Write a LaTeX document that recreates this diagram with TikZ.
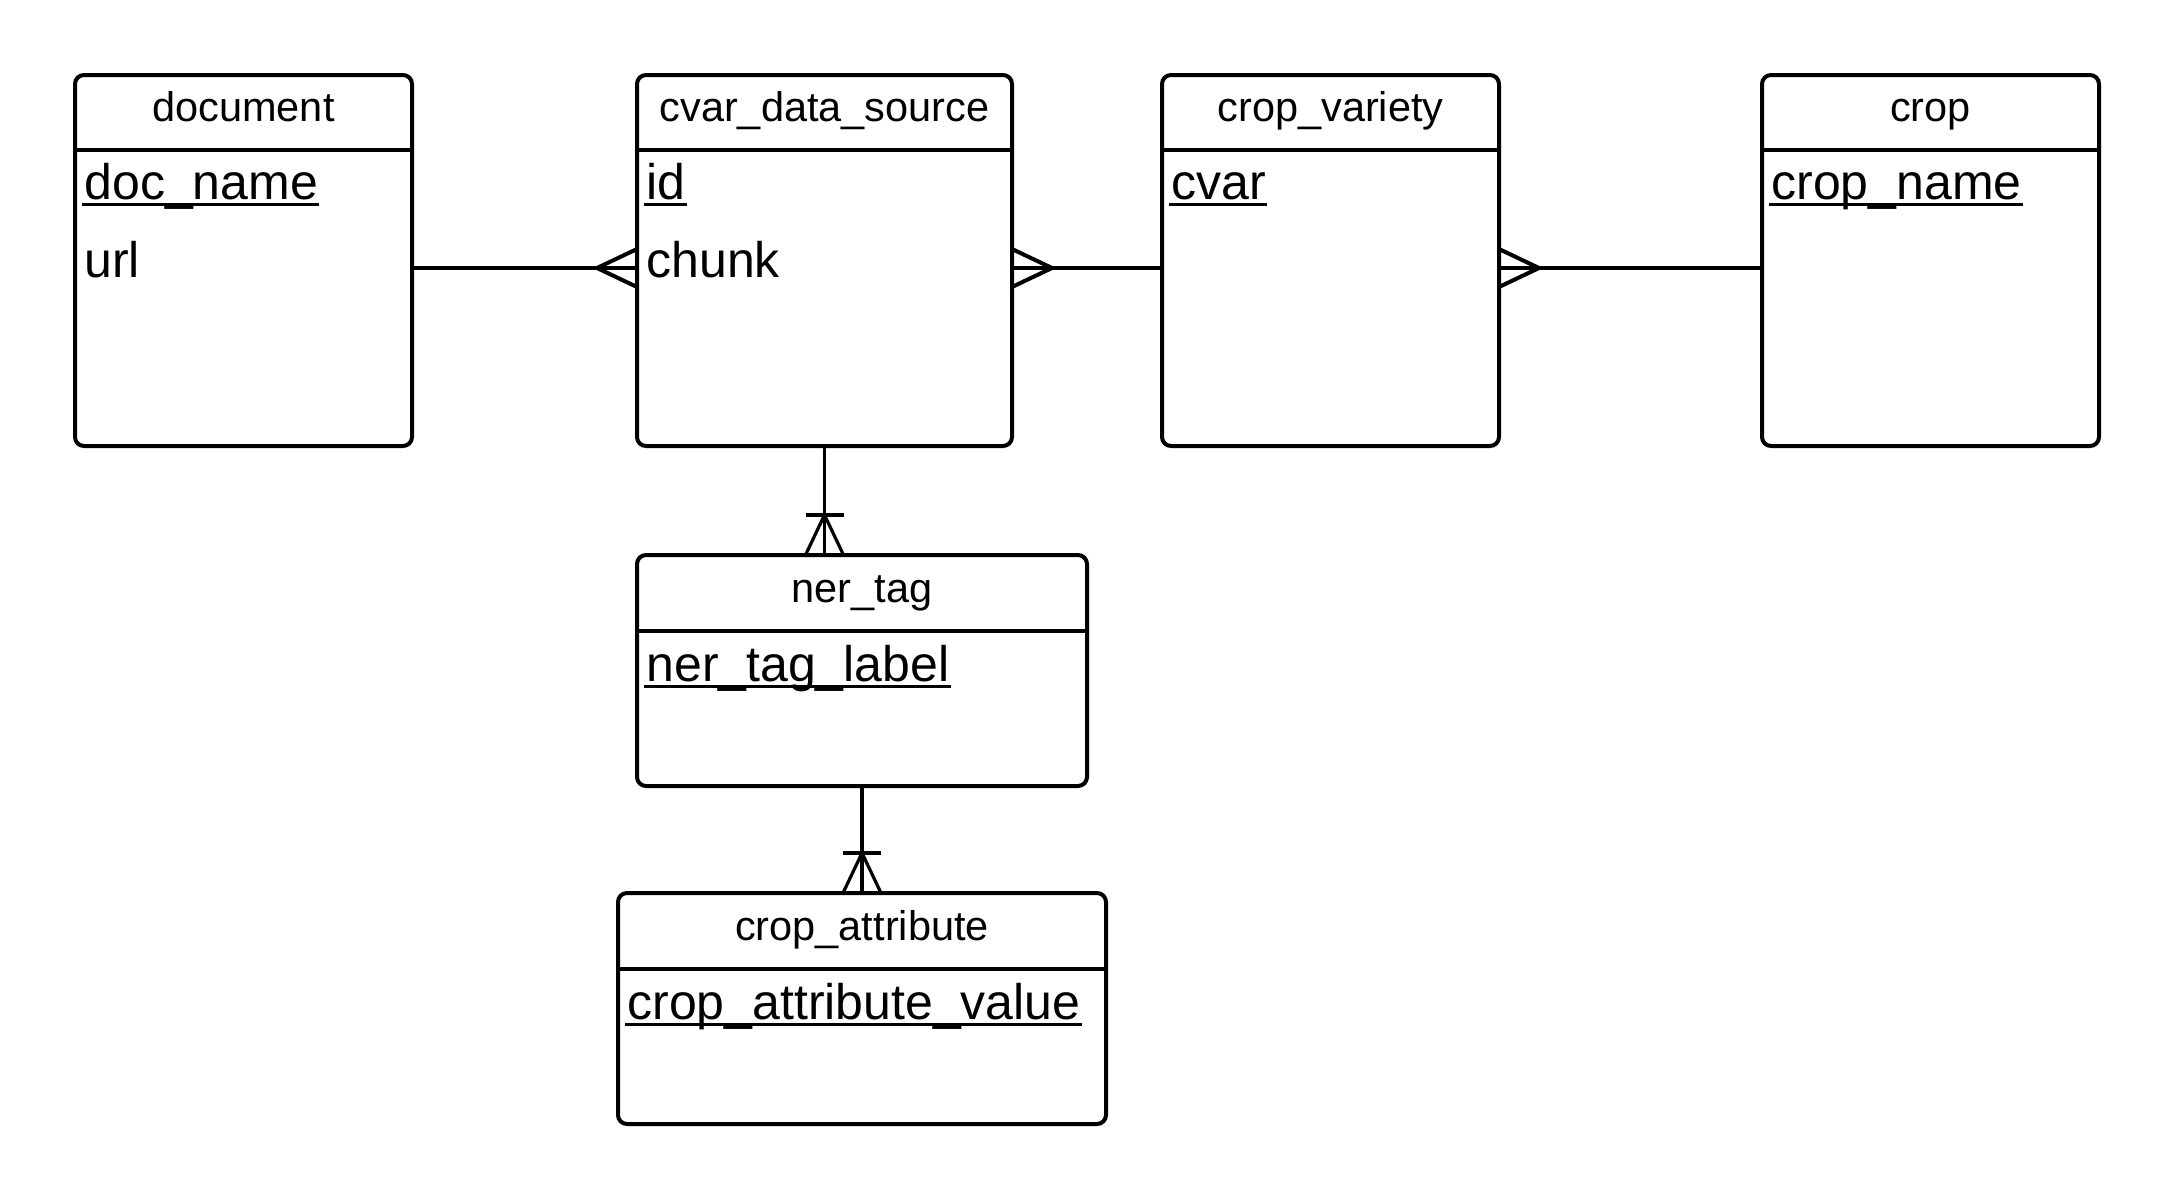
\documentclass[tikz,border=0pt]{standalone}
\usepackage{fontspec}
\setmainfont{Liberation Sans}
\begin{document}
\begin{tikzpicture}[x=0.5pt,y=-0.5pt,
  tbl/.style={draw, line width=2pt, rounded corners=4.5pt, rectangle, anchor=north west, inner sep=0pt, outer sep=0pt, fill=white},
  hd/.style={anchor=base, inner sep=0pt, font=\fontsize{20.75}{24}\selectfont},
  attr/.style={anchor=base west, inner sep=0pt, font=\fontsize{25}{30}\selectfont},
  sep/.style={line width=2pt},
  septhin/.style={line width=1.6pt},
  ul/.style={line width=1.5pt},
  conn/.style={line width=2pt, line join=miter},
  connthin/.style={line width=1.6pt, line join=miter}
]
\useasboundingbox[fill=white] (0,0) rectangle (2175,1200);

% boxes
\node[tbl, minimum width=168.5pt, minimum height=185.5pt] (doc) at (75,75) {};
\node[tbl, minimum width=187.5pt, minimum height=185.5pt] (cds) at (637,75) {};
\node[tbl, minimum width=168.5pt, minimum height=185.5pt] (cv) at (1162,75) {};
\node[tbl, minimum width=168.5pt, minimum height=185.5pt] (crop) at (1762,75) {};
\node[tbl, minimum width=225pt, minimum height=115.5pt] (ner) at (637,555) {};
\node[tbl, minimum width=244pt, minimum height=115.5pt] (ca) at (618,893) {};

% header separators
\draw[sep] ([yshift=-37.5pt]doc.north west) -- ([yshift=-37.5pt]doc.north east);
\draw[sep] ([yshift=-37.5pt]cds.north west) -- ([yshift=-37.5pt]cds.north east);
\draw[sep] ([yshift=-37.5pt]cv.north west) -- ([yshift=-37.5pt]cv.north east);
\draw[sep] ([yshift=-37.5pt]crop.north west) -- ([yshift=-37.5pt]crop.north east);
\draw[septhin] ([yshift=-38pt]ner.north west) -- ([yshift=-38pt]ner.north east);
\draw[septhin] ([yshift=-38pt]ca.north west) -- ([yshift=-38pt]ca.north east);

% headers
\node[hd] (docH) at ([yshift=-23pt]doc.north) {document};
\node[hd] (cdsH) at ([yshift=-23pt]cds.north) {cvar\_data\_source};
\node[hd] (cvH) at ([yshift=-23pt]cv.north) {crop\_variety};
\node[hd] (cropH) at ([yshift=-23pt]crop.north) {crop};
\node[hd] (nerH) at ([yshift=-23.5pt]ner.north) {ner\_tag};
\node[hd] (caH) at ([yshift=-23.5pt]ca.north) {crop\_attribute};

% attributes
\node[attr] (docA) at ([xshift=4.5pt,yshift=-62pt]doc.north west) {doc\_name};
\node[attr] (docB) at ([xshift=4.5pt,yshift=-101pt]doc.north west) {url};
\node[attr] (cdsA) at ([xshift=4.5pt,yshift=-62pt]cds.north west) {id};
\node[attr] (cdsB) at ([xshift=4.5pt,yshift=-101pt]cds.north west) {chunk};
\node[attr] (cvA) at ([xshift=4.5pt,yshift=-62pt]cv.north west) {cvar};
\node[attr] (cropA) at ([xshift=4.5pt,yshift=-62pt]crop.north west) {crop\_name};
\node[attr] (nerA) at ([xshift=4.5pt,yshift=-63pt]ner.north west) {ner\_tag\_label};
\node[attr] (caA) at ([xshift=4.5pt,yshift=-63pt]ca.north west) {crop\_attribute\_value};

% underlines
\foreach \n in {docA,cdsA,cvA,cropA,nerA,caA}{
  \draw[ul] ([xshift=-1pt,yshift=-2.75pt]\n.base west) -- ([xshift=0.5pt,yshift=-2.75pt]\n.base east);
}

% horizontal connectors
\draw[conn] ([yshift=-3.75pt]doc.east) -- ([yshift=-3.75pt]cds.west);
\draw[conn] ([yshift=-3.75pt]cds.west) ++(0,-19) -- ++(-40,19) -- ++(40,19);
\draw[conn] ([yshift=-3.75pt]cds.east) -- ([yshift=-3.75pt]cv.west);
\draw[conn] ([yshift=-3.75pt]cds.east) ++(0,-19) -- ++(40,19) -- ++(-40,19);
\draw[conn] ([yshift=-3.75pt]cv.east) -- ([yshift=-3.75pt]crop.west);
\draw[conn] ([yshift=-3.75pt]cv.east) ++(0,-19) -- ++(40,19) -- ++(-40,19);

% vertical connectors
\coordinate (nerTop) at (cds.south |- ner.north);
\draw[connthin] (cds.south) -- (nerTop);
\draw[connthin] (nerTop) ++(-19,0) -- ++(19,-40) -- ++(19,40);
\draw[connthin] (nerTop) ++(-19,-40) -- ++(38,0);

\coordinate (nerBot) at (ca.north |- ner.south);
\draw[connthin] (nerBot) -- (ca.north);
\draw[connthin] (ca.north) ++(-19,0) -- ++(19,-40) -- ++(19,40);
\draw[connthin] (ca.north) ++(-19,-40) -- ++(38,0);
\end{tikzpicture}
\end{document}
